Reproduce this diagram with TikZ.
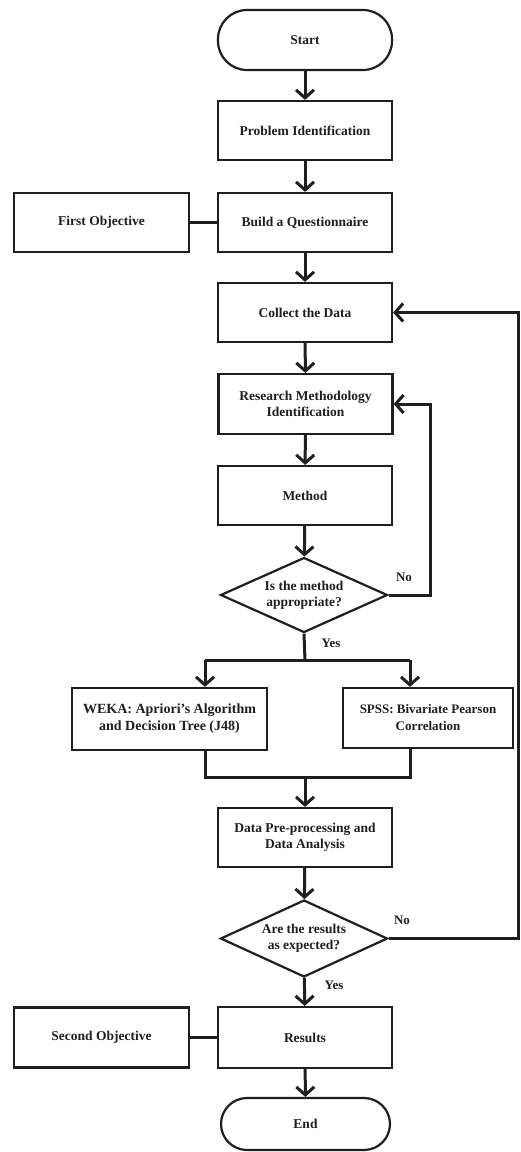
\documentclass[tikz,border=0pt]{standalone}
\usepackage{fontspec}
\setmainfont{Liberation Serif}
\usetikzlibrary{shapes.geometric,arrows.meta}
\tikzset{
  every node/.style={font=\fontsize{13.5}{16}\selectfont\bfseries, text=black!88},
  box/.style={draw=black!88, line width=2.2pt, minimum width=174pt, minimum height=59pt, align=center, inner sep=2pt},
  term/.style={draw=black!88, line width=2.2pt, rounded corners=29pt, minimum width=174pt, minimum height=60pt, align=center},
  dec/.style={draw=black!88, diamond, line width=2.2pt, minimum width=167pt, minimum height=76pt, inner sep=0pt},
  dectext/.style={align=center, inner sep=0pt},
  conn/.style={draw=black!88, line width=3pt},
  arr/.style={conn, -{Straight Barb[length=8pt,width=18pt]}},
  lab/.style={font=\fontsize{13}{15}\selectfont\bfseries}
}
\begin{document}
\begin{tikzpicture}[x=1pt,y=1pt]
\useasboundingbox[fill=white] (0,0) rectangle (520,-1152);
\node[term] (start) at (305,-40) {Start};
\node[box] (prob) at (305,-130.5) {Problem Identification};
\node[box] (quest) at (305,-222.5) {Build a Questionnaire};
\node[box, minimum width=175pt] (first) at (101.5,-222.5) {First Objective};
\node[box] (collect) at (305,-312.5) {Collect the Data};
\node[box, minimum height=60pt] (rmi) at (305.5,-404) {Research Methodology\\Identification};
\node[box] (method) at (305,-495.5) {Method};
\node[dec, minimum height=75pt] (dec1) at (304,-595) {};
\node[dectext] (dec1t) at (dec1.center) {Is the method\\appropriate?};
\node[box, minimum width=195pt, minimum height=62pt, font=\fontsize{14}{17}\selectfont\bfseries] (weka) at (169.5,-719) {WEKA: Apriori's Algorithm\\and Decision Tree (J48)};
\node[box, minimum width=170pt, minimum height=60pt, font=\fontsize{13}{17}\selectfont\bfseries] (spss) at (428,-718) {SPSS: Bivariate Pearson\\Correlation};
\node[box] (pre) at (305,-837.5) {Data Pre-processing and\\Data Analysis};
\node[dec, minimum height=77pt] (dec2) at (304,-938.5) {};
\node[dectext] (dec2t) at (dec2.center) {Are the results\\as expected?};
\node[box, minimum height=61pt] (res) at (305,-1037.5) {Results};
\node[box, minimum width=175pt, minimum height=60pt] (second) at (101.5,-1037.5) {Second Objective};
\node[term, minimum width=169pt, minimum height=52pt, rounded corners=26pt] (end) at (305.5,-1124) {End};

\coordinate (noA) at (430,-595);
\coordinate (split) at (305,-660);
\coordinate (bl) at (205,-660);
\coordinate (br) at (410,-660);
\coordinate (ml) at (205,-777);
\coordinate (mr) at (410,-777);
\coordinate (merge) at (305,-777);
\coordinate (noB) at (518,-938.5);

\draw[arr] (start) -- (prob);
\draw[arr] (prob) -- (quest);
\draw[conn] (first) -- (quest);
\draw[arr] (quest) -- (collect);
\draw[arr] (collect) -- (rmi);
\draw[arr] (rmi) -- (method);
\draw[arr] (method) -- (dec1);
\draw[arr] (dec1.east) -- (noA) |- (rmi.east);
\draw[conn] (dec1.south) -- (split);
\draw[conn] (bl) -- (br);
\draw[arr] (bl) -- (bl |- weka.north);
\draw[arr] (br) -- (br |- spss.north);
\draw[conn] (ml |- weka.south) -- (ml) -- (mr) -- (mr |- spss.south);
\draw[arr] (merge) -- (pre);
\draw[arr] (pre) -- (dec2);
\draw[arr] (dec2.east) -- (noB) |- (collect.east);
\draw[arr] (dec2) -- (res);
\draw[conn] (second) -- (res);
\draw[arr] (res) -- (end);

\node[lab] (no1) at (404,-577) {No};
\node[lab] (yes1) at (331,-643) {Yes};
\node[lab] (no2) at (402,-920) {No};
\node[lab] (yes2) at (334,-985) {Yes};
\end{tikzpicture}
\end{document}
